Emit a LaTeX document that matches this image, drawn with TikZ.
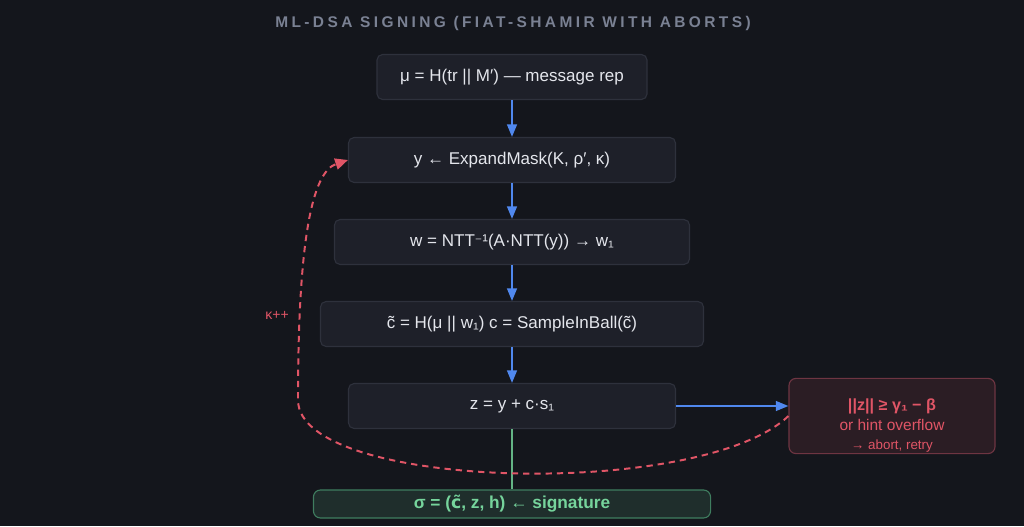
\documentclass[tikz,border=0pt]{standalone}
\usepackage{fontspec}
\setmainfont{Liberation Sans}
\newfontfamily\symfont{DejaVu Sans}
\usetikzlibrary{arrows.meta}
\definecolor{bgdark}{HTML}{14161C}
\definecolor{boxfill}{HTML}{1E2029}
\definecolor{boxline}{HTML}{2E313C}
\definecolor{textlight}{HTML}{E4E6EC}
\definecolor{titlegray}{HTML}{7A8193}
\definecolor{flowblue}{HTML}{5088EE}
\definecolor{abortred}{HTML}{E05566}
\definecolor{abortfill}{HTML}{2B1D24}
\definecolor{abortline}{HTML}{6E3542}
\definecolor{sigfill}{HTML}{1F2E2C}
\definecolor{sigline}{HTML}{3F7D5F}
\definecolor{siggreen}{HTML}{76D49C}
\tikzset{
  stepbox/.style={draw=boxline, fill=boxfill, rounded corners=4pt, line width=0.8pt,
    text=textlight, font=\fontsize{12.1}{14}\selectfont, minimum height=1.125cm},
  flow/.style={draw=flowblue, line width=1.4pt, -{Triangle[width=7pt,length=9pt]}},
  retry/.style={draw=abortred, line width=1.4pt, dash pattern=on 4.5pt off 3.5pt,
    -{Triangle[width=8pt,length=9pt]}}
}
\begin{document}
\begin{tikzpicture}[x=0.025cm, y=-0.025cm]
            \fill [bgdark] (0,0) rectangle (1024,526);
            \useasboundingbox (0,0) rectangle (1024,526);
            \node (title) at (513,24) [text=titlegray, font=\bfseries\fontsize{11}{13}\selectfont\addfontfeature{LetterSpace=22}] {ML-DSA SIGNING (FIAT-SHAMIR WITH ABORTS)};
            % the signing pipeline
            \node (mu) at (512,77) [stepbox, minimum width=6.75cm] {μ = H(tr || M′) — message rep};
            \node (ymask) at (512,160) [stepbox, minimum width=8.175cm] {y ← ExpandMask(K, ρ′, κ)};
            \node (wcomm) at (512,242) [stepbox, minimum width=8.875cm] {w = NTT{\symfont\fontsize{10}{12}\selectfont⁻}¹(A·NTT(y)) → w₁};
            \node (chal) at (512,324) [stepbox, minimum width=9.575cm] {c̃ = H(μ || w₁) c = SampleInBall(c̃)};
            \node (zresp) at (512,406) [stepbox, minimum width=8.175cm] {z = y + c·s₁};
            \node (abort) at (892,416) [draw=abortline, fill=abortfill, rounded corners=5pt, line width=0.8pt,
                minimum width=5.15cm, minimum height=1.775cm, text=abortred, align=center, inner sep=1pt]
                {\rule{0pt}{22pt}{\bfseries\fontsize{11.5}{13}\selectfont ||z|| ≥ γ₁ − β}\\[2pt]
                 {\fontsize{11}{13}\selectfont or hint overflow}\\[1.5pt]
                 {\fontsize{9.5}{11}\selectfont → abort, retry}};
            \node (sig) at (512,504) [draw=sigline, fill=sigfill, rounded corners=5pt, line width=0.8pt,
                minimum width=9.925cm, minimum height=0.7cm, text=siggreen,
                font=\bfseries\fontsize{12.3}{14}\selectfont] {σ = ({\symfont c̃}, z, h) ← signature};
            \draw [flow] (mu) -- (ymask);
            \draw [flow] (ymask) -- (wcomm);
            \draw [flow] (wcomm) -- (chal);
            \draw [flow] (chal) -- (zresp);
            \draw [flow] (zresp.east) -- (zresp.east -| abort.west);
            \draw [draw=siggreen!85!black, line width=1.4pt] (zresp) -- (sig);
            % rejection loop back to the mask
            \coordinate (loopleft) at (298,400);
            \draw [retry] (abort.west) .. controls (700,500) and (298,490) .. (loopleft)
                .. controls (298,240) and (312,172) .. (ymask.west);
            \node (kinc) at (277,315) [text=abortred, font=\fontsize{10}{12}\selectfont] {κ++};
\end{tikzpicture}
\end{document}
